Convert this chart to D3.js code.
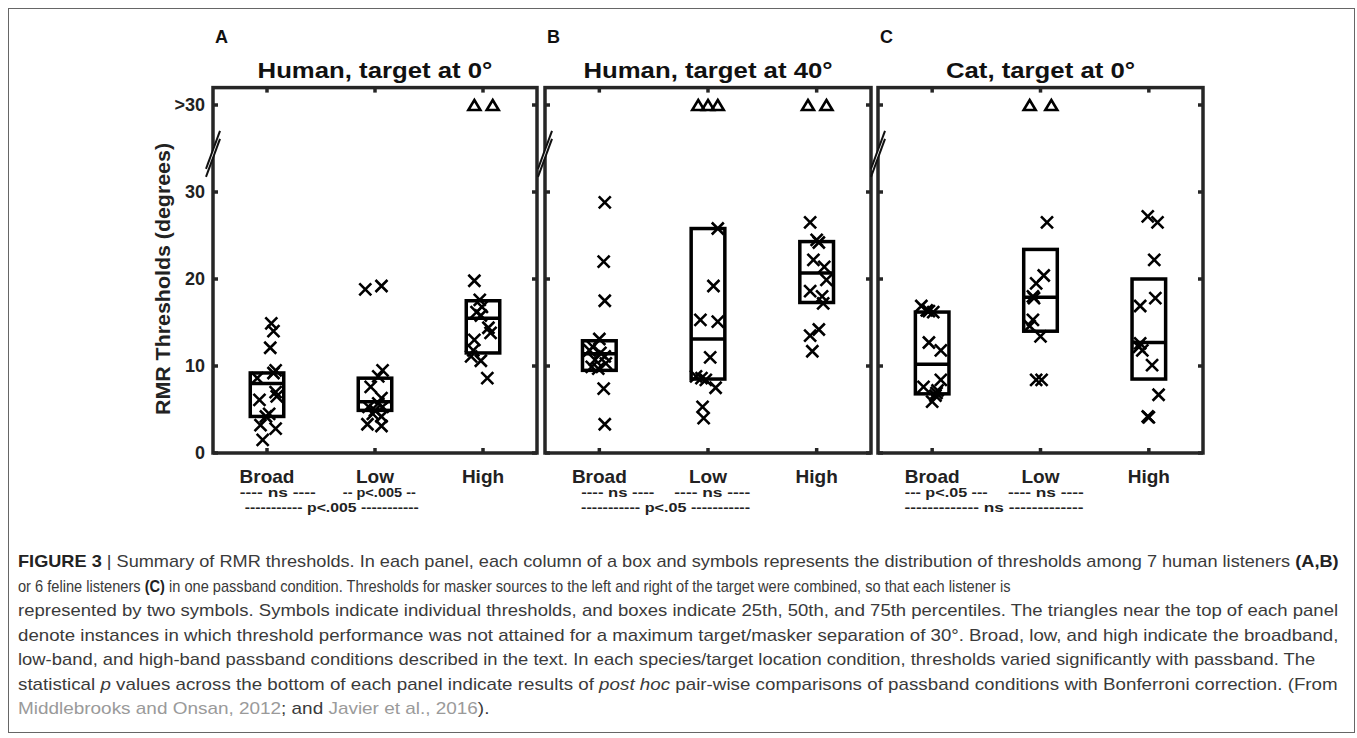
<!DOCTYPE html>
<html><head><meta charset="utf-8">
<script src="https://cdn.jsdelivr.net/npm/d3@7"></script>
<style>
html,body{margin:0;padding:0;background:#fff;}
svg{display:block;font-family:"Liberation Sans",Arial,Helvetica,sans-serif;}
</style></head>
<body>
<svg id="chart" width="1357" height="738"></svg>
<script>
// ---------------- data ----------------
const categories = ["Broad", "Low", "High"];
const panelLetters = ["A", "B", "C"];
const panelTitles = ["Human, target at 0°", "Human, target at 40°", "Cat, target at 0°"];
const yTickValues = [0, 10, 20, 30, 40];
const yTickLabels = ["0", "10", "20", "30", ">30"];
const notAttainedValue = 40;   // plotted position of ">30"
const breakValue = 34.5;       // axis break location
const yAxisTitle = "RMR Thresholds (degrees)";

// boxes: [25th, 50th, 75th] per category
const boxesA = [[4.2, 8.0, 9.2], [4.9, 5.9, 8.6], [11.5, 15.5, 17.5]];
const boxesB = [[9.5, 11.4, 12.9], [8.5, 13.1, 25.8], [17.3, 20.7, 24.3]];
const boxesC = [[6.8, 10.2, 16.2], [14.0, 17.9, 23.4], [8.5, 12.7, 20.0]];

// individual thresholds (x symbols) and horizontal jitter (category units)
const valsA_Broad = [14.9, 14.0, 12.1, 9.5, 9.2, 8.6, 7.0, 6.5, 6.1, 4.5, 4.2, 3.2, 2.8, 1.5];
const jitA_Broad  = [0.04, 0.06, 0.03, 0.08, 0.06, -0.09, 0.08, 0.09, -0.07, 0.02, -0.01, -0.06, 0.08, -0.04];
const valsA_Low   = [18.8, 19.2, 9.5, 8.8, 7.6, 6.3, 5.7, 5.3, 5.3, 4.9, 4.5, 4.2, 3.3, 3.1];
const jitA_Low    = [-0.09, 0.06, 0.07, 0.03, -0.04, 0.06, 0.03, -0.06, 0.07, 0, -0.02, 0.06, -0.07, 0.06];
const valsA_High  = [19.8, 17.6, 16.8, 16.2, 15.8, 14.4, 13.8, 13.0, 11.8, 11.1, 10.6, 8.6];
const jitA_High   = [-0.08, -0.03, -0.01, -0.06, -0.02, 0.05, 0.07, -0.08, -0.09, -0.11, -0.02, 0.04];

const valsB_Broad = [28.8, 22.0, 17.5, 13.1, 12.2, 11.5, 11.8, 11.1, 10.7, 10.3, 9.9, 9.7, 7.4, 3.3];
const jitB_Broad  = [0.05, 0.04, 0.05, 0, -0.06, 0.01, -0.09, 0.05, -0.04, 0.06, -0.07, -0.01, 0.04, 0.05];
const valsB_Low   = [25.8, 19.2, 15.3, 15.1, 11.0, 8.8, 8.6, 8.4, 7.5, 5.3, 4.0];
const jitB_Low    = [0.09, 0.05, -0.07, 0.09, 0.02, -0.11, -0.06, -0.02, 0.07, -0.05, -0.04];
const valsB_High  = [26.5, 24.5, 24.2, 22.2, 21.4, 19.9, 18.6, 18.0, 17.2, 14.2, 13.5, 11.7];
const jitB_High   = [-0.06, 0, 0.02, -0.03, 0.07, 0.09, -0.06, 0.05, 0.06, 0.02, -0.06, -0.04];

const valsC_Broad = [16.9, 16.4, 16.3, 16.2, 12.7, 11.8, 8.4, 7.6, 7.2, 6.9, 6.6, 5.9];
const jitC_Broad  = [-0.10, -0.05, -0.03, 0.01, -0.03, 0.08, 0.08, -0.08, 0.05, 0.04, 0.03, 0];
const valsC_Low   = [26.5, 20.4, 19.5, 18.0, 17.8, 15.3, 14.6, 13.4, 8.4, 8.4];
const jitC_Low    = [0.06, 0.03, -0.04, -0.07, -0.06, -0.07, -0.10, 0, -0.04, 0.01];
const valsC_High  = [27.2, 26.5, 22.2, 17.8, 16.9, 12.6, 12.2, 11.8, 10.1, 6.7, 4.2, 4.1];
const jitC_High   = [-0.01, 0.08, 0.05, 0.06, -0.08, -0.08, -0.09, -0.06, 0.03, 0.09, -0.01, 0];

// thresholds not attained (triangles at ">30"): jitter per symbol, per category
const triA = [[], [], [-0.08, 0.09]];
const triB = [[], [-0.09, 0, 0.09], [-0.08, 0.09]];
const triC = [[], [-0.10, 0.10], []];

// post hoc comparisons
const sigRow1 = [["---- ns ----", "-- p<.005 --"], ["---- ns ----", "---- ns ----"], ["--- p<.05 ---", "---- ns ----"]];
const sigRow2 = ["----------- p<.005 -----------", "----------- p<.05 -----------", "------------- ns -------------"];

// caption
const captionLines = [
  [["FIGURE 3", "b"], [" | Summary of RMR thresholds. In each panel, each column of a box and symbols represents the distribution of thresholds among 7 human listeners ", ""], ["(A,B)", "b"]],
  [["or 6 feline listeners ", ""], ["(C)", "b"], [" in one passband condition. Thresholds for masker sources to the left and right of the target were combined, so that each listener is", ""]],
  [["represented by two symbols. Symbols indicate individual thresholds, and boxes indicate 25th, 50th, and 75th percentiles. The triangles near the top of each panel", ""]],
  [["denote instances in which threshold performance was not attained for a maximum target/masker separation of 30°. Broad, low, and high indicate the broadband,", ""]],
  [["low-band, and high-band passband conditions described in the text. In each species/target location condition, thresholds varied significantly with passband. The", ""]],
  [["statistical ", ""], ["p", "i"], [" values across the bottom of each panel indicate results of ", ""], ["post hoc", "i"], [" pair-wise comparisons of passband conditions with Bonferroni correction. (From", ""]],
  [["Middlebrooks and Onsan, 2012", "g"], ["; and ", ""], ["Javier et al., 2016", "g"], [").", ""]]
];

// ---------------- layout ----------------
const panelX = [[213, 537], [545, 871], [878, 1203]];
const plotTop = 87.6, plotBottom = 453;
const captionWidths = [1321, 993, 1321, 1321, 1298, 1320, 472];
// significance text placement: [center (category units), width px]
const sigRow1Pos = [[[1.10, 76], [2.04, 73]], [[1.17, 73], [2.04, 76]], [[1.13, 83], [2.05, 76]]];
const sigRow2Pos = [[1.60, 174], [1.61, 169], [1.57, 179]];
const titleStretch = 1.17;

const panels = [
  {boxes: boxesA, vals: [valsA_Broad, valsA_Low, valsA_High], jit: [jitA_Broad, jitA_Low, jitA_High], tri: triA},
  {boxes: boxesB, vals: [valsB_Broad, valsB_Low, valsB_High], jit: [jitB_Broad, jitB_Low, jitB_High], tri: triB},
  {boxes: boxesC, vals: [valsC_Broad, valsC_Low, valsC_High], jit: [jitC_Broad, jitC_Low, jitC_High], tri: triC}
];

const svg = d3.select("#chart");
const axisColor = "#262626";

// figure border
svg.append("rect").attr("x", 8.5).attr("y", 8.5).attr("width", 1346).attr("height", 724)
  .attr("fill", "none").attr("stroke", "#666").attr("stroke-width", 1);

const y = d3.scaleLinear().domain([0, 42]).range([plotBottom, plotTop]);

panels.forEach((p, pi) => {
  const [x0, x1] = panelX[pi];
  const x = d3.scaleLinear().domain([0.5, 3.5]).range([x0, x1]);
  const g = svg.append("g");

  // frame
  g.append("rect").attr("x", x0).attr("y", plotTop).attr("width", x1 - x0).attr("height", plotBottom - plotTop)
    .attr("fill", "none").attr("stroke", axisColor).attr("stroke-width", 3.5);

  // y ticks (inward, both sides)
  yTickValues.forEach(v => {
    g.append("line").attr("x1", x0).attr("x2", x0 + 5).attr("y1", y(v)).attr("y2", y(v))
      .attr("stroke", axisColor).attr("stroke-width", 3.5);
    g.append("line").attr("x1", x1 - 5).attr("x2", x1).attr("y1", y(v)).attr("y2", y(v))
      .attr("stroke", axisColor).attr("stroke-width", 3.5);
  });
  // x ticks (inward, top & bottom)
  categories.forEach((c, ci) => {
    const cx = x(ci + 1);
    g.append("line").attr("x1", cx).attr("x2", cx).attr("y1", plotBottom).attr("y2", plotBottom - 5)
      .attr("stroke", axisColor).attr("stroke-width", 3.5);
    g.append("line").attr("x1", cx).attr("x2", cx).attr("y1", plotTop).attr("y2", plotTop + 5)
      .attr("stroke", axisColor).attr("stroke-width", 3.5);
    g.append("text").attr("x", cx).attr("y", 483).attr("text-anchor", "middle")
      .attr("font-size", 19).attr("font-weight", "bold").attr("fill", "#222").text(c);
  });

  // axis break on left side
  const yc = y(breakValue);
  g.append("path")
    .attr("d", `M${x0 - 6},${yc + 12}L${x0 + 6},${yc - 20}L${x0 + 6},${yc - 12}L${x0 - 6},${yc + 20}Z`)
    .attr("fill", "#fff");
  [-4, 4].forEach(s => {
    g.append("line").attr("x1", x0 - 7).attr("y1", yc + 20 + s).attr("x2", x0 + 7).attr("y2", yc - 18 + s)
      .attr("stroke", "#111").attr("stroke-width", 2);
  });

  // boxes
  const halfW = 0.155;
  p.boxes.forEach((b, ci) => {
    const cx = ci + 1;
    g.append("rect").attr("x", x(cx - halfW)).attr("y", y(b[2]))
      .attr("width", x(cx + halfW) - x(cx - halfW)).attr("height", y(b[0]) - y(b[2]))
      .attr("fill", "none").attr("stroke", "#000").attr("stroke-width", 3.5);
    g.append("line").attr("x1", x(cx - halfW)).attr("x2", x(cx + halfW))
      .attr("y1", y(b[1])).attr("y2", y(b[1])).attr("stroke", "#000").attr("stroke-width", 3.5);
  });

  // x symbols
  p.vals.forEach((vals, ci) => {
    vals.forEach((v, k) => {
      const px = x(ci + 1 + p.jit[ci][k]), py = y(v);
      g.append("path").attr("d", `M${px - 6},${py - 6}L${px + 6},${py + 6}M${px + 6},${py - 6}L${px - 6},${py + 6}`)
        .attr("stroke", "#000").attr("stroke-width", 2.6).attr("fill", "none");
    });
  });
  // triangles
  p.tri.forEach((tj, ci) => {
    tj.forEach(j => {
      const px = x(ci + 1 + j), py = y(notAttainedValue);
      g.append("path").attr("d", `M${px},${py - 5}L${px + 6},${py + 5}L${px - 6},${py + 5}Z`)
        .attr("stroke", "#000").attr("stroke-width", 2.6).attr("fill", "none").attr("stroke-linejoin", "miter");
    });
  });

  // title & panel letter
  const tt = g.append("text").attr("x", (x0 + x1) / 2).attr("y", 78).attr("text-anchor", "middle")
    .attr("font-size", 22).attr("font-weight", "bold").attr("fill", "#111").text(panelTitles[pi]);
  const tw = tt.node().getComputedTextLength();
  tt.attr("textLength", tw * titleStretch).attr("lengthAdjust", "spacingAndGlyphs");
  g.append("text").attr("x", x0 + 2).attr("y", 43)
    .attr("font-size", 18).attr("font-weight", "bold").attr("fill", "#111").text(panelLetters[pi]);

  // significance rows
  sigRow1[pi].forEach((t, k) => {
    const [c, w] = sigRow1Pos[pi][k];
    g.append("text").attr("x", x(c) - w / 2).attr("y", 497)
      .attr("textLength", w).attr("lengthAdjust", "spacingAndGlyphs")
      .attr("font-size", 12.5).attr("font-weight", "bold").attr("fill", "#222").text(t);
  });
  const [c2, w2] = sigRow2Pos[pi];
  g.append("text").attr("x", x(c2) - w2 / 2).attr("y", 512)
    .attr("textLength", w2).attr("lengthAdjust", "spacingAndGlyphs")
    .attr("font-size", 12.5).attr("font-weight", "bold").attr("fill", "#222").text(sigRow2[pi]);

  // y axis labels on first panel
  if (pi === 0) {
    yTickValues.forEach((v, k) => {
      g.append("text").attr("x", x0 - 8).attr("y", y(v)).attr("dy", "0.36em").attr("text-anchor", "end")
        .attr("font-size", 18).attr("font-weight", "bold").attr("fill", "#222").text(yTickLabels[k]);
    });
    g.append("text").attr("transform", `translate(170,279) rotate(-90)`)
      .attr("x", -136).attr("textLength", 272).attr("lengthAdjust", "spacingAndGlyphs")
      .attr("font-size", 20).attr("font-weight", "bold").attr("fill", "#222").text(yAxisTitle);
  }
});

// caption: each line scaled horizontally to its measured width
const capBase = 567, capStep = 24.5;
captionLines.forEach((segs, li) => {
  const lg = svg.append("g");
  const t = lg.append("text").attr("x", 0).attr("y", 0)
    .attr("font-size", 16).attr("fill", "#3a3a3a");
  segs.forEach(([s, st]) => {
    const ts = t.append("tspan").text(s);
    if (st === "b") ts.attr("font-weight", "bold").attr("fill", "#222");
    if (st === "i") ts.attr("font-style", "italic");
    if (st === "g") ts.attr("fill", "#9a9a9a");
  });
  const natural = t.node().getComputedTextLength();
  const sx = captionWidths[li] / natural;
  lg.attr("transform", `translate(18,${capBase + li * capStep}) scale(${sx},1)`);
});
</script>
</body></html>
